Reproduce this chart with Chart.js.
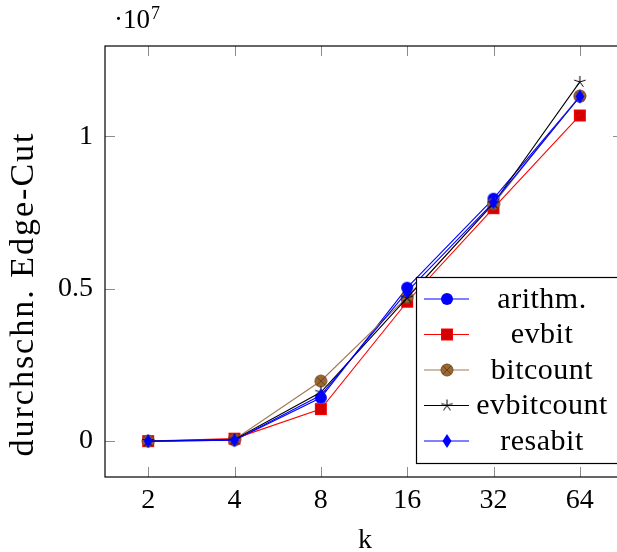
<!DOCTYPE html>
<html>
<head>
<meta charset="utf-8">
<script src="https://cdn.jsdelivr.net/npm/chart.js@4.4.0/dist/chart.umd.min.js"></script>
<style>
  html, body { margin: 0; padding: 0; background: #fff; overflow: hidden; }
</style>
</head>
<body>
<canvas id="chart" width="617" height="552"></canvas>
<script>
// k-Werte (x-Achse) und Messwerte (durchschn. Edge-Cut)
const categories = [2, 4, 8, 16, 32, 64];
const arithm     = [0.00e6, 0.03e6, 1.42e6, 5.03e6, 7.95e6, 11.30e6];
const evbit      = [0.00e6, 0.08e6, 1.05e6, 4.57e6, 7.64e6, 10.68e6];
const bitcount   = [0.00e6, 0.05e6, 1.97e6, 4.72e6, 7.78e6, 11.32e6];
const evbitcount = [0.00e6, 0.05e6, 1.60e6, 4.70e6, 7.80e6, 11.78e6];
const resabit    = [0.00e6, 0.03e6, 1.50e6, 4.90e6, 7.83e6, 11.30e6];
const yTicks = [0, 5e6, 1e7];
const yTickLabels = ['0', '0.5', '1'];

const FONT = '"Liberation Serif", "DejaVu Serif", serif';

// Achse geht rechts ueber den Bildrand hinaus (wie im Original abgeschnitten)
const AXIS_LEFT = 105, AXIS_RIGHT = 623;

// kleine Canvas-Marker wie in pgfplots
function marker(size, draw) {
    const c = document.createElement('canvas');
    c.width = size; c.height = size;
    const g = c.getContext('2d');
    draw(g, size / 2);
    return c;
}
const mCircle = marker(14, (g, m) => {
    g.beginPath(); g.arc(m, m, 6, 0, Math.PI * 2);
    g.fillStyle = '#0000ff'; g.fill();
});
const mSquare = marker(14, (g, m) => {
    g.fillStyle = '#d40000'; g.fillRect(m - 5.5, m - 5.5, 11, 11);
    g.strokeStyle = '#ff0000'; g.lineWidth = 1; g.strokeRect(m - 5.5, m - 5.5, 11, 11);
});
const mOtimes = marker(14, (g, m) => {
    g.beginPath(); g.arc(m, m, 6, 0, Math.PI * 2);
    g.fillStyle = '#9a6632'; g.fill();
    g.strokeStyle = '#7a5028'; g.lineWidth = 1; g.stroke();
    const d = 6 * Math.SQRT1_2;
    g.beginPath();
    g.moveTo(m - d, m - d); g.lineTo(m + d, m + d);
    g.moveTo(m + d, m - d); g.lineTo(m - d, m + d);
    g.strokeStyle = '#5a3a1c'; g.lineWidth = 0.8; g.stroke();
});
const mStar = marker(16, (g, m) => {
    g.beginPath();
    for (let i = 0; i < 5; i++) {
        const a = -Math.PI / 2 + i * 2 * Math.PI / 5;
        g.moveTo(m, m); g.lineTo(m + 6 * Math.cos(a), m + 6 * Math.sin(a));
    }
    g.strokeStyle = '#000'; g.lineWidth = 1; g.stroke();
});
const mDiamond = marker(16, (g, m) => {
    g.beginPath();
    g.moveTo(m, m - 7); g.lineTo(m + 4.5, m); g.lineTo(m, m + 7); g.lineTo(m - 4.5, m);
    g.closePath(); g.fillStyle = '#0000ff'; g.fill();
});

const series = [
    { label: 'arithm.',    data: arithm,     color: '#0000ff', marker: mCircle },
    { label: 'evbit',      data: evbit,      color: '#ff0000', marker: mSquare },
    { label: 'bitcount',   data: bitcount,   color: '#a07850', marker: mOtimes },
    { label: 'evbitcount', data: evbitcount, color: '#000000', marker: mStar },
    { label: 'resabit',    data: resabit,    color: '#0000ff', marker: mDiamond },
];

const datasets = series.map((s, i) => ({
    label: s.label,
    data: categories.map((k, j) => ({ x: Math.log2(k), y: s.data[j] })),
    borderColor: s.color,
    backgroundColor: s.color,
    borderWidth: 1.1,
    pointStyle: s.marker,
    pointRadius: 6,
    tension: 0,
    order: series.length - i, // spaeter = oben
}));

// Plotbereich fest auf pgfplots-Masse setzen (rechts ueber den Rand hinaus)
const fixArea = {
    id: 'fixArea',
    afterLayout(chart) {
        const xs = chart.scales.x;
        chart.chartArea.left = AXIS_LEFT;
        chart.chartArea.right = AXIS_RIGHT;
        chart.chartArea.width = AXIS_RIGHT - AXIS_LEFT;
        xs.left = AXIS_LEFT;
        xs.right = AXIS_RIGHT;
        xs.width = AXIS_RIGHT - AXIS_LEFT;
        xs.configure();
    }
};

// Rahmen, Ticks nach innen, Achsentitel, 10^7 und Legende
const pgfDecor = {
    id: 'pgfDecor',
    afterDraw(chart) {
        const ctx = chart.ctx;
        const a = chart.chartArea;
        const xs = chart.scales.x, ys = chart.scales.y;
        ctx.save();
        // Ticks
        ctx.strokeStyle = '#8c8c8c';
        ctx.lineWidth = 1;
        ctx.beginPath();
        categories.forEach(k => {
            const px = Math.round(xs.getPixelForValue(Math.log2(k))) + 0.5;
            ctx.moveTo(px, a.bottom); ctx.lineTo(px, a.bottom - 10);
            ctx.moveTo(px, a.top); ctx.lineTo(px, a.top + 10);
        });
        yTicks.forEach(v => {
            const py = Math.round(ys.getPixelForValue(v)) + 0.5;
            ctx.moveTo(a.left, py); ctx.lineTo(a.left + 10, py);
            ctx.moveTo(a.right, py); ctx.lineTo(a.right - 10, py);
        });
        ctx.stroke();
        // Rahmen
        ctx.strokeStyle = '#000';
        ctx.lineWidth = 1.2;
        ctx.strokeRect(a.left, a.top, a.right - a.left, a.bottom - a.top);

        // Achsentitel
        ctx.fillStyle = '#000';
        ctx.textAlign = 'center';
        ctx.textBaseline = 'alphabetic';
        ctx.font = '28px ' + FONT;
        ctx.fillText('k', (a.left + a.right) / 2 + 1, 548);
        ctx.save();
        ctx.translate(33, 294);
        ctx.rotate(-Math.PI / 2);
        ctx.font = '34px ' + FONT;
        ctx.letterSpacing = '2px';
        ctx.fillText('durchschn. Edge-Cut', 0, 0);
        ctx.restore();

        // Faktor oben links
        ctx.textAlign = 'left';
        ctx.font = '27px ' + FONT;
        ctx.fillText('\u00b710', 114, 28);
        const w = ctx.measureText('\u00b710').width;
        ctx.font = '18px ' + FONT;
        ctx.fillText('7', 114 + w + 1, 19);

        // Legende
        const lx = 416, ly = 277, lh = 186;
        ctx.fillStyle = '#fff';
        ctx.fillRect(lx, ly, 240, lh);
        ctx.strokeStyle = '#000';
        ctx.lineWidth = 1.2;
        ctx.strokeRect(lx + 0.5, ly + 0.5, 240, lh);
        ctx.font = '30px ' + FONT;
        ctx.letterSpacing = '0.5px';
        ctx.textAlign = 'center';
        ctx.textBaseline = 'middle';
        series.forEach((s, i) => {
            const cy = 299 + i * 35.5;
            ctx.strokeStyle = s.color;
            ctx.lineWidth = 1.1;
            ctx.beginPath(); ctx.moveTo(424, cy); ctx.lineTo(469, cy); ctx.stroke();
            const m = s.marker;
            ctx.drawImage(m, 447 - m.width / 2, cy - m.height / 2);
            ctx.fillStyle = '#000';
            ctx.fillText(s.label, 542, cy + 1);
        });
        ctx.restore();
    }
};

new Chart(document.getElementById('chart'), {
    type: 'line',
    data: { datasets: datasets },
    options: {
        responsive: false,
        animation: false,
        layout: { padding: { left: 0, top: 46, right: 0, bottom: 0 } },
        plugins: { legend: { display: false }, tooltip: { enabled: false } },
        scales: {
            x: {
                type: 'linear',
                min: 0.5,
                max: 6.5,
                grid: { display: false, drawTicks: false },
                border: { display: false },
                afterBuildTicks: s => { s.ticks = categories.map(k => ({ value: Math.log2(k) })); },
                afterFit: s => { s.height = 75; },
                ticks: {
                    padding: 7,
                    color: '#000',
                    font: { family: FONT, size: 28 },
                    callback: v => String(Math.round(Math.pow(2, v))),
                    maxRotation: 0,
                },
            },
            y: {
                min: -1.178e6,
                max: 12.958e6,
                grid: { display: false, drawTicks: false },
                border: { display: false },
                afterBuildTicks: s => { s.ticks = yTicks.map(v => ({ value: v })); },
                afterFit: s => { s.width = AXIS_LEFT; },
                ticks: {
                    padding: 12,
                    color: '#000',
                    font: { family: FONT, size: 28 },
                    callback: v => yTickLabels[yTicks.indexOf(v)],
                },
            },
        },
    },
    plugins: [fixArea, pgfDecor],
});
</script>
</body>
</html>
